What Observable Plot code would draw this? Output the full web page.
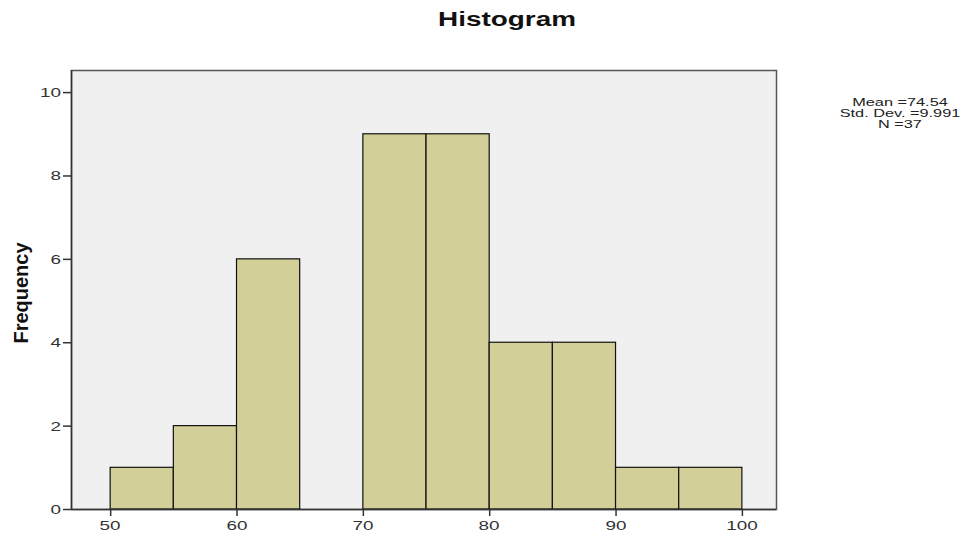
<!DOCTYPE html>
<html>
<head>
<meta charset="utf-8">
<script src="https://cdn.jsdelivr.net/npm/d3@7"></script>
<script src="https://cdn.jsdelivr.net/npm/@observablehq/plot@0.6"></script>
<style>
  html, body { margin: 0; padding: 0; background: #fff; }
  #wrap { position: relative; width: 971px; height: 535px; overflow: hidden; font-family: "Liberation Sans", Arial, sans-serif; }
  .abs { position: absolute; white-space: nowrap; }
  #title { left: 507px; top: 8px; transform: translateX(-50%) scaleX(1.43); font-weight: bold; font-size: 19.5px; color: #111; }
  #stats { left: 900px; top: 97px; transform: translateX(-50%) scaleX(1.48); text-align: center; font-size: 11px; line-height: 11px; color: #222; }
  #ylab { left: 21px; top: 293px; transform: translate(-50%, -50%) rotate(-90deg); font-weight: bold; font-size: 20px; color: #111; }
  .xt { font-size: 13px; line-height: 13px; color: #333; transform: translateX(-50%) scaleX(1.45); }
  .yt { font-size: 13px; line-height: 13px; color: #333; transform: translate(-100%, -50%) scaleX(1.45); transform-origin: right center; }
  svg { position: absolute; left: 0; top: 0; }
</style>
</head>
<body>
<div id="wrap">
  <div id="title" class="abs">Histogram</div>
  <div id="stats" class="abs">Mean =74.54<br>Std. Dev. =9.991<br>N =37</div>
  <div id="ylab" class="abs">Frequency</div>
</div>
<script>
const binStart = [50, 55, 60, 65, 70, 75, 80, 85, 90, 95];
const binEnd   = [55, 60, 65, 70, 75, 80, 85, 90, 95, 100];
const counts   = [1, 2, 6, 0, 9, 9, 4, 4, 1, 1];
const xTicks = [50, 60, 70, 80, 90, 100];
const yTicks = [0, 2, 4, 6, 8, 10];

const bins = binStart.map((s, i) => ({x1: s, x2: binEnd[i], y: counts[i]})).filter(d => d.y > 0);

const chart = Plot.plot({
  width: 971,
  height: 535,
  marginLeft: 71,
  marginRight: 195,
  marginTop: 70,
  marginBottom: 26,
  style: {fontFamily: "'Liberation Sans', Arial, sans-serif", color: "#333", background: "transparent"},
  x: {domain: [46.9, 102.7]},
  y: {domain: [0, 10.53]},
  marks: [
    Plot.frame({fill: "#f0f0f0", stroke: "#555", strokeWidth: 1.5}),
    Plot.rectY(bins, {x1: "x1", x2: "x2", y: "y", fill: "#d3cf98", stroke: "#111", strokeWidth: 1.2}),
    Plot.ruleY([0], {stroke: "#333", strokeWidth: 1.5}),
    Plot.ruleX([46.9], {stroke: "#333", strokeWidth: 1.5}),
    Plot.axisX({ticks: xTicks, tickSize: 7, tickFormat: () => "", label: null, stroke: "#333", strokeWidth: 1.5}),
    Plot.axisY({ticks: yTicks, tickSize: 8, tickFormat: () => "", label: null, stroke: "#333", strokeWidth: 1.5})
  ]
});
const wrap = document.getElementById("wrap");
wrap.insertBefore(chart, document.getElementById("title"));

// tick labels (horizontally stretched, like the reference), placed with Plot's scales
const xs = chart.scale("x"), ys = chart.scale("y");
xTicks.forEach(v => {
  const d = document.createElement("div");
  d.className = "abs xt";
  d.textContent = String(v);
  d.style.left = xs.apply(v) + "px";
  d.style.top = "519px";
  wrap.appendChild(d);
});
yTicks.forEach(v => {
  const d = document.createElement("div");
  d.className = "abs yt";
  d.textContent = String(v);
  d.style.left = "61px";
  d.style.top = ys.apply(v) + "px";
  wrap.appendChild(d);
});
</script>
</body>
</html>
